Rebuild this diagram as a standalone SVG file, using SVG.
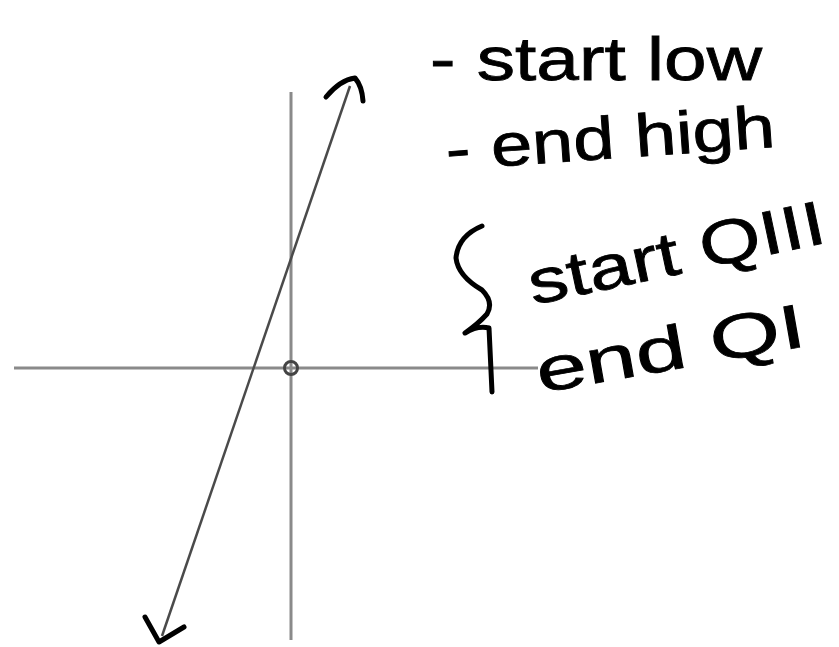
<svg xmlns="http://www.w3.org/2000/svg" width="839" height="647" viewBox="0 0 839 647">
<style>
.axis{stroke:#8a8a8a;stroke-width:3;fill:none}
.graph{stroke:#4a4a4a;stroke-width:2.5;fill:none}
.ink{stroke:#000;stroke-width:5;fill:none;stroke-linecap:round;stroke-linejoin:round}
.note{font-family:"Liberation Sans","DejaVu Sans",sans-serif;fill:#000;stroke:#000;stroke-width:0.8}
</style>
<rect width="839" height="647" fill="#fff"/>
<g id="axes">
<line class="axis" x1="14" y1="368" x2="538" y2="368"/>
<line class="axis" x1="291" y1="92" x2="291" y2="640"/>
<circle cx="291" cy="368" r="6.5" fill="none" stroke="#444" stroke-width="3"/>
</g>
<g id="connectors">
<line class="graph" x1="350" y1="86" x2="162" y2="636"/>
<path class="ink" d="M326 97 Q340 80 355 78 Q362 86 363 101"/>
<path class="ink" d="M145 617 L159 642 L184 627"/>
</g>
<g id="note-start-low">
<text class="note" x="430" y="80" font-size="62" textLength="332" lengthAdjust="spacingAndGlyphs">- start low</text>
</g>
<g id="note-end-high">
<text class="note" x="447" y="170" font-size="60" textLength="330" lengthAdjust="spacingAndGlyphs" transform="rotate(-4 447 170)">- end high</text>
</g>
<g id="brace">
<path class="ink" d="M482 226 Q458 236 456 258 Q458 276 482 290 Q494 302 487 314 Q478 324 465 333 Q478 325 489 328 L492 392"/>
</g>
<g id="note-start-q3">
<text class="note" x="533" y="305" font-size="62" textLength="302" lengthAdjust="spacingAndGlyphs" transform="rotate(-12 533 305)">start QIII</text>
</g>
<g id="note-end-q1">
<text class="note" x="540" y="393" font-size="62" textLength="272" lengthAdjust="spacingAndGlyphs" transform="rotate(-10 540 393)">end  QI</text>
</g>
</svg>
